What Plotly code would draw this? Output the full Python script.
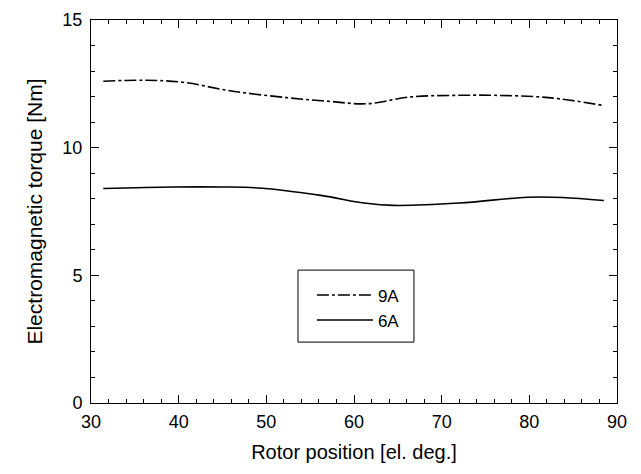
import plotly.graph_objects as go

# rotor position [el. deg.] and torque [Nm]
pos_9a = [31.4, 35.9, 40.5, 46.0, 52.3, 57.0, 61.4, 66.5, 72.0, 76.0, 82.2, 88.5]
torque_9a = [12.60, 12.64, 12.56, 12.22, 11.96, 11.82, 11.72, 11.99, 12.05, 12.05, 11.96, 11.65]

pos_6a = [31.4, 39.4, 45.0, 49.2, 56.2, 61.4, 64.5, 72.0, 79.8, 83.8, 88.5]
torque_6a = [8.40, 8.46, 8.46, 8.42, 8.13, 7.82, 7.74, 7.83, 8.06, 8.05, 7.93]

font_family = "Liberation Sans, Arial, sans-serif"

fig = go.Figure()
fig.add_trace(go.Scatter(
    x=pos_9a, y=torque_9a, mode="lines", name="9A",
    line=dict(color="black", width=1.6, dash="12px,3px,3px,3px", shape="spline"),
))
fig.add_trace(go.Scatter(
    x=pos_6a, y=torque_6a, mode="lines", name="6A",
    line=dict(color="black", width=1.6, shape="spline"),
))

axis_common = dict(
    showline=True, linecolor="black", linewidth=1, mirror="ticks",
    ticks="inside", ticklen=8, tickcolor="black", tickwidth=1,
    showgrid=False, zeroline=False, automargin=False,
    tickfont=dict(family=font_family, size=18, color="black"),
)

fig.update_xaxes(
    range=[30, 90], dtick=10, tick0=30,
    minor=dict(dtick=2, ticks="inside", ticklen=4, tickcolor="black"),
    title=dict(text="Rotor position [el. deg.]", standoff=14,
               font=dict(family=font_family, size=20, color="black")),
    ticklabelstandoff=2,
    **axis_common,
)
fig.update_yaxes(
    range=[0, 15], dtick=5,
    minor=dict(dtick=1, ticks="inside", ticklen=4, tickcolor="black"),
    title=dict(text="Electromagnetic torque [Nm]", standoff=14,
               font=dict(family=font_family, size=21, color="black")),
    ticklabelstandoff=4,
    **axis_common,
)

# legend frame
fig.add_shape(type="rect", xref="paper", yref="paper",
              x0=0.3935, x1=0.614, y0=0.159, y1=0.347,
              line=dict(color="black", width=1), fillcolor="white", layer="below")

fig.update_layout(
    width=633, height=466,
    margin=dict(l=83, r=24, t=12, b=71),
    plot_bgcolor="white", paper_bgcolor="white",
    showlegend=True,
    legend=dict(
        x=0.42, y=0.328, xanchor="left", yanchor="top",
        bgcolor="rgba(0,0,0,0)", borderwidth=0,
        font=dict(family=font_family, size=17, color="black"),
        tracegroupgap=0, itemwidth=56,
    ),
)

fig.write_html("out.html")
